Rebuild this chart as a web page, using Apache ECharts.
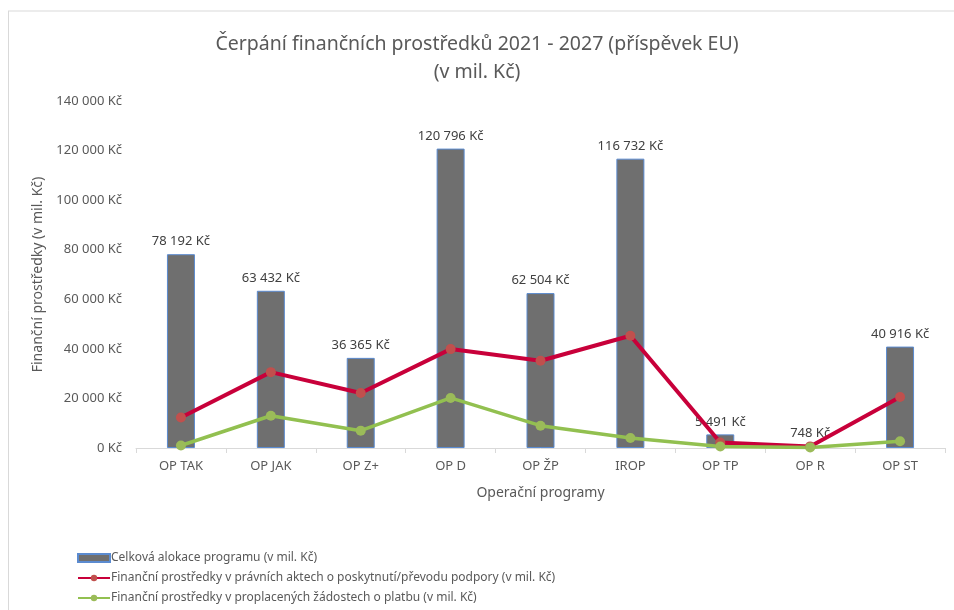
<!DOCTYPE html>
<html>
<head>
<meta charset="utf-8">
<script src="https://cdn.jsdelivr.net/npm/echarts@6/dist/echarts.min.js"></script>
<style>
  html, body { margin: 0; padding: 0; background: #fff; }
  #chart { width: 954px; height: 610px; }
</style>
</head>
<body>
<div id="chart"></div>
<script>
// data
var programy = ['OP TAK', 'OP JAK', 'OP Z+', 'OP D', 'OP ŽP', 'IROP', 'OP TP', 'OP R', 'OP ST'];
var alokace = [78192, 63432, 36365, 120796, 62504, 116732, 5491, 748, 40916];
var pravniAkty = [12300, 30600, 22200, 39900, 35200, 45300, 2200, 650, 20600];
var proplaceno = [1000, 13000, 7000, 20200, 9000, 4000, 600, 250, 2700];
var yTicks = [0, 20000, 40000, 60000, 80000, 100000, 120000, 140000];

var nazvy = [
  'Celková alokace programu (v mil. Kč)',
  'Finanční prostředky v právních aktech o poskytnutí/převodu podpory (v mil. Kč)',
  'Finanční prostředky v proplacených žádostech o platbu (v mil. Kč)'
];

function kc(v) {
  return String(Math.round(v)).replace(/\B(?=(\d{3})+(?!\d))/g, ' ') + ' Kč';
}

var font = '"Noto Sans", "Liberation Sans", sans-serif';
var chart = echarts.init(document.getElementById('chart'));

var option = {
  backgroundColor: '#fff',
  textStyle: { fontFamily: font },
  title: {
    text: 'Čerpání finančních prostředků 2021 - 2027 (příspěvek EU)\n(v mil. Kč)',
    left: 'center',
    top: 25,
    textStyle: { fontSize: 19.5, fontWeight: 'normal', color: '#595959', lineHeight: 28, fontFamily: font }
  },
  graphic: [
    { type: 'line', shape: { x1: 8, y1: 11, x2: 954, y2: 11 }, style: { stroke: '#d9d9d9', lineWidth: 1 } },
    { type: 'line', shape: { x1: 8.5, y1: 11, x2: 8.5, y2: 610 }, style: { stroke: '#d9d9d9', lineWidth: 1 } }
  ],
  legend: {
    orient: 'vertical',
    left: 72,
    top: 547,
    itemGap: 8,
    itemWidth: 32,
    itemHeight: 8,
    textStyle: { fontSize: 12, color: '#595959', padding: [0, 0, 0, -4] },
    data: [
      { name: nazvy[0], icon: 'rect' },
      { name: nazvy[1] },
      { name: nazvy[2] }
    ]
  },
  grid: { left: 136, right: 9, top: 101, bottom: 162 },
  xAxis: {
    type: 'category',
    data: programy,
    name: 'Operační programy',
    nameLocation: 'middle',
    nameGap: 38,
    nameTextStyle: { fontSize: 14, color: '#595959' },
    axisLine: { lineStyle: { color: '#d9d9d9' } },
    axisTick: { show: true, length: 5, lineStyle: { color: '#d9d9d9' } },
    axisLabel: { fontSize: 13, color: '#595959', margin: 12 }
  },
  yAxis: {
    type: 'value',
    min: yTicks[0],
    max: yTicks[yTicks.length - 1],
    interval: 20000,
    name: 'Finanční prostředky (v mil. Kč)',
    nameLocation: 'middle',
    nameGap: 90,
    nameTextStyle: { fontSize: 14, color: '#595959' },
    splitLine: { show: false },
    axisLine: { show: false },
    axisTick: { show: false },
    axisLabel: { fontSize: 13, color: '#595959', margin: 14, formatter: kc }
  },
  series: [
    {
      name: nazvy[0],
      type: 'bar',
      data: alokace,
      barWidth: 28,
      itemStyle: { color: '#6f6f6f', borderColor: '#5b8bd0', borderWidth: 1 },
      label: { show: true, position: 'top', distance: 6, fontSize: 13, color: '#404040', formatter: function (p) { return kc(p.value); } }
    },
    {
      name: nazvy[1],
      type: 'line',
      data: pravniAkty,
      symbol: 'circle',
      symbolSize: 10,
      lineStyle: { color: '#c8003a', width: 4 },
      itemStyle: { color: '#c0504d' }
    },
    {
      name: nazvy[2],
      type: 'line',
      data: proplaceno,
      symbol: 'circle',
      symbolSize: 10,
      lineStyle: { color: '#92c050', width: 3.5 },
      itemStyle: { color: '#9bbb59' }
    }
  ]
};

chart.setOption(option);
</script>
</body>
</html>
